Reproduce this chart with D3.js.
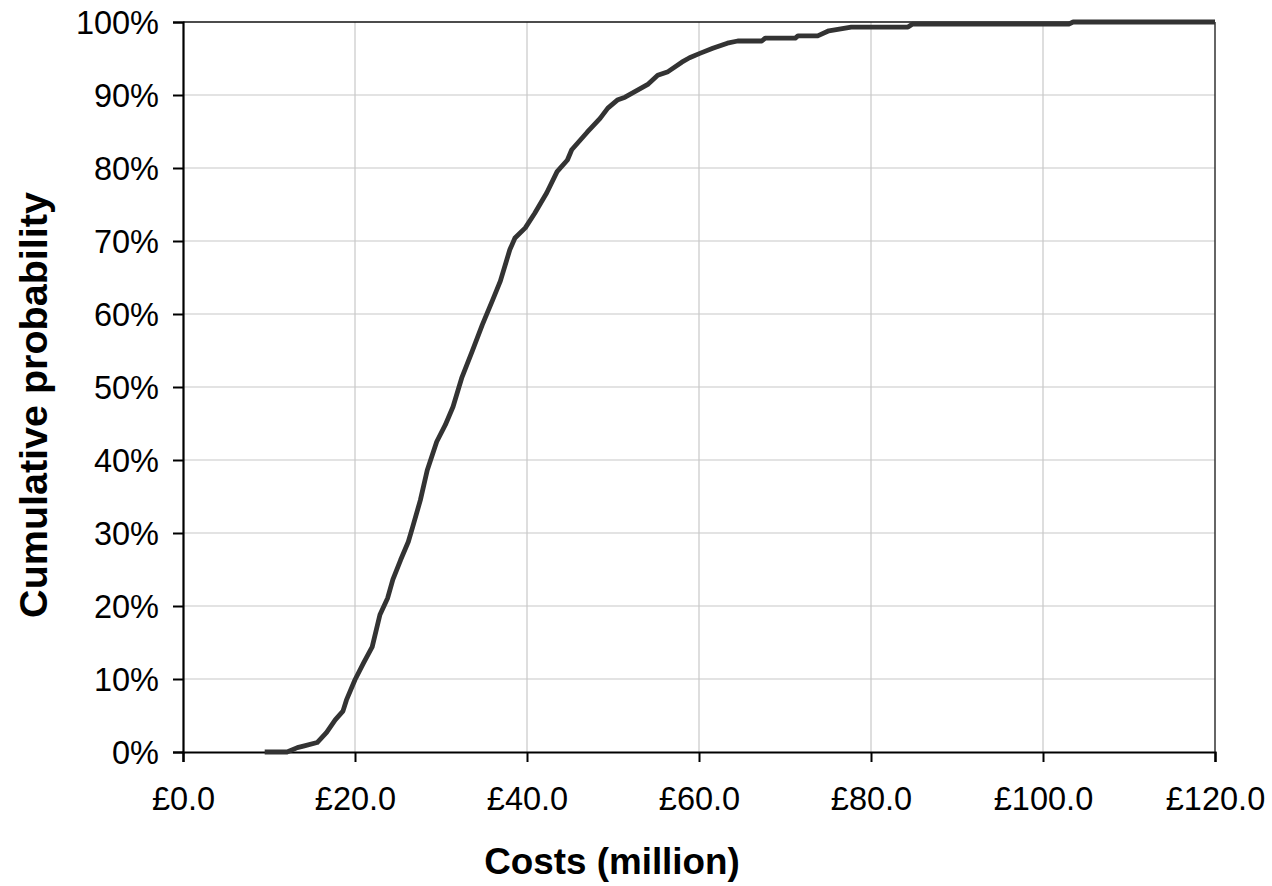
<!DOCTYPE html>
<html>
<head>
<meta charset="utf-8">
<script src="https://cdn.jsdelivr.net/npm/d3@7"></script>
<style>
  html, body { margin: 0; padding: 0; background: #fff; }
  svg { display: block; font-family: Arial, "Liberation Sans", sans-serif; }
</style>
</head>
<body>
<svg id="chart" width="1272" height="886"></svg>
<script>
// Data
const costs = [9.5, 12.1, 13.3, 14.0, 15.6, 16.7, 17.7, 18.6, 19.0, 20.0, 21.0, 22.0, 22.9, 23.8, 24.4, 25.3, 26.2, 26.7, 27.6, 28.4, 29.5, 30.5, 31.4, 32.4, 33.6, 34.8, 36.0, 36.9, 38.0, 38.6, 39.8, 40.9, 42.3, 43.5, 44.7, 45.2, 47.0, 48.5, 49.4, 50.5, 51.4, 54.1, 55.2, 56.4, 58.0, 58.9, 60.1, 61.6, 63.3, 64.5, 67.3, 67.7, 71.2, 71.5, 73.8, 75.1, 77.7, 84.3, 84.8, 103.0, 103.5, 120];
const probs = [0, 0, 0.6, 0.8, 1.3, 2.7, 4.4, 5.6, 7.1, 9.9, 12.2, 14.4, 18.8, 21.1, 23.6, 26.3, 28.8, 30.8, 34.5, 38.6, 42.5, 44.8, 47.3, 51.2, 54.8, 58.5, 61.9, 64.5, 68.8, 70.4, 71.8, 73.8, 76.6, 79.5, 81.1, 82.5, 84.9, 86.8, 88.2, 89.3, 89.7, 91.5, 92.7, 93.2, 94.5, 95.1, 95.7, 96.4, 97.1, 97.4, 97.4, 97.8, 97.8, 98.1, 98.1, 98.8, 99.3, 99.3, 99.7, 99.7, 100, 100];
const xTicks = [0, 20, 40, 60, 80, 100, 120];
const yTicks = [0, 10, 20, 30, 40, 50, 60, 70, 80, 90, 100];
const xTitle = "Costs (million)";
const yTitle = "Cumulative probability";

const svg = d3.select("#chart");
const margin = {left: 183, right: 57, top: 22, bottom: 134};
const W = 1272, H = 886;
const iw = W - margin.left - margin.right;
const ih = H - margin.top - margin.bottom;

const x = d3.scaleLinear().domain([0, 120]).range([margin.left, margin.left + iw]);
const y = d3.scaleLinear().domain([0, 100]).range([margin.top + ih, margin.top]);

// grid
svg.append("g").selectAll("line.h").data(yTicks.slice(1, -1)).join("line")
  .attr("x1", x(0)).attr("x2", x(120))
  .attr("y1", d => y(d)).attr("y2", d => y(d))
  .attr("stroke", "#c8c8c8").attr("stroke-width", 1.2);
svg.append("g").selectAll("line.v").data(xTicks.slice(1, -1)).join("line")
  .attr("y1", y(0)).attr("y2", y(100))
  .attr("x1", d => x(d)).attr("x2", d => x(d))
  .attr("stroke", "#c8c8c8").attr("stroke-width", 1.2);

// top & right border
svg.append("line").attr("x1", x(0)).attr("x2", x(120)).attr("y1", y(100)).attr("y2", y(100))
  .attr("stroke", "#111").attr("stroke-width", 1.5);
svg.append("line").attr("x1", x(120)).attr("x2", x(120)).attr("y1", y(100)).attr("y2", y(0))
  .attr("stroke", "#333").attr("stroke-width", 1.5);

// axes
const xAxis = d3.axisBottom(x).tickValues(xTicks).tickSize(10).tickPadding(25)
  .tickFormat(d => "£" + d3.format(".1f")(d));
const yAxis = d3.axisLeft(y).tickValues(yTicks).tickSize(10).tickPadding(14)
  .tickFormat(d => d + "%");

const gx = svg.append("g").attr("transform", `translate(0,${y(0)})`).call(xAxis);
const gy = svg.append("g").attr("transform", `translate(${x(0)},0)`).call(yAxis);
[gx, gy].forEach(g => {
  g.attr("font-size", null).attr("font-family", null);
  g.select(".domain").attr("stroke", "#000").attr("stroke-width", 2.2);
  g.selectAll(".tick line").attr("stroke", "#000").attr("stroke-width", 2);
  g.selectAll(".tick text").attr("fill", "#000").style("font-size", "32.5px")
    .style("font-family", "Arial, 'Liberation Sans', sans-serif");
});
gx.selectAll(".tick text").attr("dy", "0.71em");
gy.selectAll(".tick text").attr("dy", "0.35em");

// line
const pts = costs.map((c, i) => [c, probs[i]]);
const line = d3.line().x(d => x(d[0])).y(d => y(d[1]));
svg.append("path").datum(pts).attr("d", line)
  .attr("fill", "none").attr("stroke", "#333").attr("stroke-width", 4.8)
  .attr("stroke-linejoin", "round");

// titles
svg.append("text").attr("x", 612).attr("y", 874).attr("text-anchor", "middle")
  .attr("font-weight", "bold").style("font-size", "36.8px").attr("fill", "#000").text(xTitle);
svg.append("text").attr("transform", `translate(47,405) rotate(-90)`).attr("text-anchor", "middle")
  .attr("font-weight", "bold").style("font-size", "39.5px").attr("fill", "#000").text(yTitle);
</script>
</body>
</html>
